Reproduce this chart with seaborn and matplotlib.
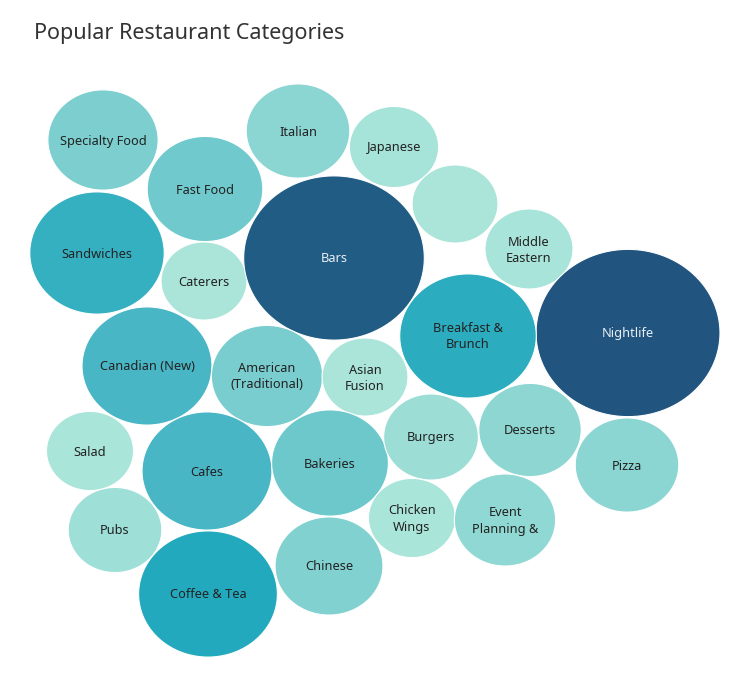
import numpy as np
import matplotlib
matplotlib.use("Agg")
import matplotlib.pyplot as plt
from matplotlib.colors import LinearSegmentedColormap
from matplotlib.path import Path
import pandas as pd
import seaborn as sns

sns.set_theme(style="white")
plt.rcParams['font.family'] = ['Noto Sans', 'DejaVu Sans']

# bubble labels as shown (one bubble carries no label in the reference)
labels = ['Specialty Food', 'Italian', 'Japanese', '', 'Fast Food', 'Sandwiches',
          'Caterers', 'Bars', 'Middle\nEastern', 'Nightlife', 'Breakfast &\nBrunch',
          'Canadian (New)', 'American\n(Traditional)', 'Asian\nFusion', 'Salad', 'Cafes',
          'Bakeries', 'Burgers', 'Desserts', 'Pizza', 'Pubs', 'Chicken\nWings',
          'Event\nPlanning &', 'Chinese', 'Coffee & Tea']
# relative number of businesses
counts = [359, 317, 235, 218, 395, 534, 218, 964, 229, 1000, 551, 499, 366, 218,
          224, 499, 403, 265, 310, 317, 259, 224, 303, 344, 569]
# packed layout (pixel space)
layout_x = [103, 298, 394, 455, 205, 97, 204, 334, 529, 628, 468, 147, 267, 365,
            90, 207, 330, 431, 530, 627, 115, 412, 505, 329, 208]
layout_y = [140, 131, 147, 204, 189, 253, 281, 258, 249, 333, 336, 366, 376, 377,
            451, 471, 463, 437, 430, 465, 530, 518, 520, 566, 594]

df = pd.DataFrame({'label': labels, 'count': counts, 'x': layout_x, 'y': layout_y})

cmap = LinearSegmentedColormap.from_list('blueteal', [
    (0.0, '#abe5da'), (0.12, '#8cd6d2'), (0.24, '#6cc7cc'), (0.36, '#48b6c5'),
    (0.45, '#22a9bd'), (1.0, '#21557f')])

# slightly wide ellipse, like the stretched Tableau bubbles
t = np.linspace(0, 2 * np.pi, 120)
ellipse = Path(np.column_stack([1.1 * np.cos(t), np.sin(t)]), closed=True)

fig = plt.figure(figsize=(7.36, 6.76), dpi=100)
ax = fig.add_axes([0, 0, 1, 1])

w_max = 184 * 0.72  # widest bubble in points
sns.scatterplot(data=df, x='x', y='y', hue='count', size='count',
                palette=cmap, hue_norm=(218, 1000),
                sizes=(0, w_max ** 2), size_norm=(0, 1000),
                marker=ellipse, edgecolor='white', linewidth=0.8,
                alpha=1, legend=False, ax=ax)

for _, r in df.iterrows():
    col = '#e9eff5' if r['count'] > 800 else '#222222'
    ax.text(r['x'], r['y'] + 1, r['label'], ha='center', va='center',
            fontsize=9.2, color=col, linespacing=1.3)

ax.set_xlim(0, 736)
ax.set_ylim(676, 0)
ax.axis('off')

fig.text(34 / 736, 1 - 33 / 676, 'Popular Restaurant Categories',
         ha='left', va='center', fontsize=15.5, color='#333333')

fig.savefig('out.png', dpi=100)
